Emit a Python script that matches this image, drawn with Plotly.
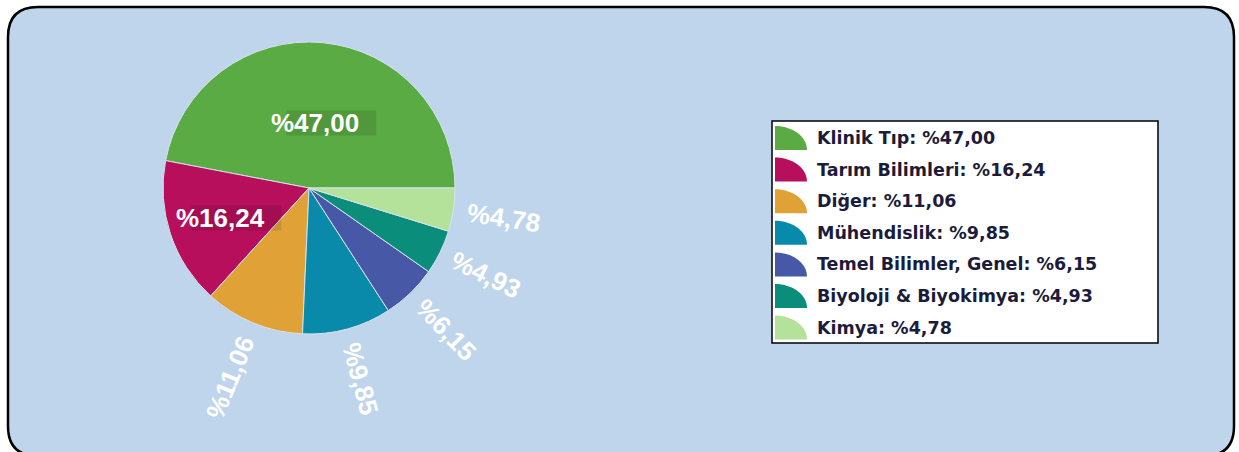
import numpy as np
import plotly.graph_objects as go

# ---------------- data ----------------
categories = ["Klinik Tıp", "Tarım Bilimleri", "Diğer", "Mühendislik",
              "Temel Bilimler, Genel", "Biyoloji & Biyokimya", "Kimya"]
values = [47.00, 16.24, 11.06, 9.85, 6.15, 4.93, 4.78]
value_labels = ["%47,00", "%16,24", "%11,06", "%9,85", "%6,15", "%4,93", "%4,78"]
colors = ["#5aab43", "#b80f5c", "#e0a236", "#0a8aab", "#4658a6", "#0b8d7c", "#b4e29a"]
inside_label = [True, True, False, False, False, False, False]
inside_radius = [0.45, 0.64, 0, 0, 0, 0, 0]

# ---------------- layout constants (pixels) ----------------
W, H = 1239, 452
CX, CY, R = 309, 188, 146


def px(x):
    return x / W


def py(y):
    return 1 - y / H


total = sum(values)
# first slice runs counter-clockwise from 3 o'clock
rotation = 90 - values[0] / total * 360

fig = go.Figure()
fig.add_trace(go.Pie(
    labels=categories, values=values, sort=False, direction="counterclockwise",
    rotation=rotation, textinfo="none", hoverinfo="label+percent", showlegend=False,
    marker=dict(colors=colors, line=dict(color="#d6e2ee", width=1)),
    domain=dict(x=[px(CX - R), px(CX + R)], y=[py(CY + R), py(CY - R)]),
))

shapes = []
annotations = []

# background rounded rectangle
x0, x1, y0, y1, rr = 8, 1234, 7, 456, 30
path = (f"M {px(x0 + rr)},{py(y0)} L {px(x1 - rr)},{py(y0)} "
        f"Q {px(x1)},{py(y0)} {px(x1)},{py(y0 + rr)} "
        f"L {px(x1)},{py(y1 - rr)} Q {px(x1)},{py(y1)} {px(x1 - rr)},{py(y1)} "
        f"L {px(x0 + rr)},{py(y1)} Q {px(x0)},{py(y1)} {px(x0)},{py(y1 - rr)} "
        f"L {px(x0)},{py(y0 + rr)} Q {px(x0)},{py(y0)} {px(x0 + rr)},{py(y0)} Z")
shapes.append(dict(type="path", xref="paper", yref="paper", path=path,
                   fillcolor="#bfd5eb", line=dict(color="#000000", width=2.5),
                   layer="below"))

# slice labels
start = 0.0
label_font = dict(family="Liberation Sans, Arial, sans-serif", size=26,
                  color="white", weight="bold")
for i, v in enumerate(values):
    span = v / total * 360.0
    mid = start + span / 2
    start += span
    th = np.deg2rad(mid)
    if inside_label[i]:
        r = inside_radius[i] * R
        lx = CX + r * np.cos(th)
        ly = CY - r * np.sin(th)
        shapes.append(dict(type="rect", xref="paper", yref="paper",
                           x0=px(lx + 16 - 45), x1=px(lx + 16 + 45),
                           y0=py(ly + 13), y1=py(ly - 12),
                           fillcolor="rgba(0,0,0,0.11)", line=dict(width=0),
                           layer="above"))
        annotations.append(dict(x=px(lx), y=py(ly), xref="paper", yref="paper",
                                text=value_labels[i], showarrow=False,
                                font=label_font, xanchor="center",
                                yanchor="middle"))
    else:
        half = len(value_labels[i]) * 7.5
        r = R + 14 + half
        lx = CX + r * np.cos(th)
        ly = CY - r * np.sin(th)
        ang = -mid
        while ang > 90:
            ang -= 180
        while ang <= -90:
            ang += 180
        annotations.append(dict(x=px(lx), y=py(ly), xref="paper", yref="paper",
                                text=value_labels[i], showarrow=False,
                                textangle=ang, font=label_font,
                                xanchor="center", yanchor="middle"))

# legend box
LX0, LX1, LY0, LY1 = 772, 1158, 121, 343
shapes.append(dict(type="rect", xref="paper", yref="paper",
                   x0=px(LX0), x1=px(LX1), y0=py(LY1), y1=py(LY0),
                   fillcolor="white", line=dict(color="black", width=1.5),
                   layer="above"))
row0, step = 138, 31.6
for i, name in enumerate(categories):
    yc = row0 + i * step
    ix0, ix1 = 775, 807
    iy0, iy1 = yc - 12, yc + 12
    w, h = ix1 - ix0, iy1 - iy0
    ipath = (f"M {px(ix0)},{py(iy1)} L {px(ix0)},{py(iy0)} "
             f"C {px(ix0 + 0.552 * w)},{py(iy0)} {px(ix1)},{py(iy1 - 0.552 * h)} "
             f"{px(ix1)},{py(iy1)} Z")
    shapes.append(dict(type="path", xref="paper", yref="paper", path=ipath,
                       fillcolor=colors[i], line=dict(width=0), layer="above"))
    annotations.append(dict(x=px(815), y=py(yc), xref="paper", yref="paper",
                            text=f"{name}: {value_labels[i]}", showarrow=False,
                            xanchor="left", yanchor="middle",
                            font=dict(family="DejaVu Sans, Verdana, sans-serif",
                                      size=17.5, color="#1c1c3a", weight="bold")))

fig.update_layout(
    width=W, height=H, margin=dict(l=0, r=0, t=0, b=0),
    paper_bgcolor="white", plot_bgcolor="white",
    shapes=shapes, annotations=annotations, showlegend=False,
)

fig.write_html("out.html", config={"displayModeBar": False},
               post_script="document.body.style.margin='0';document.body.style.overflow='hidden';")
